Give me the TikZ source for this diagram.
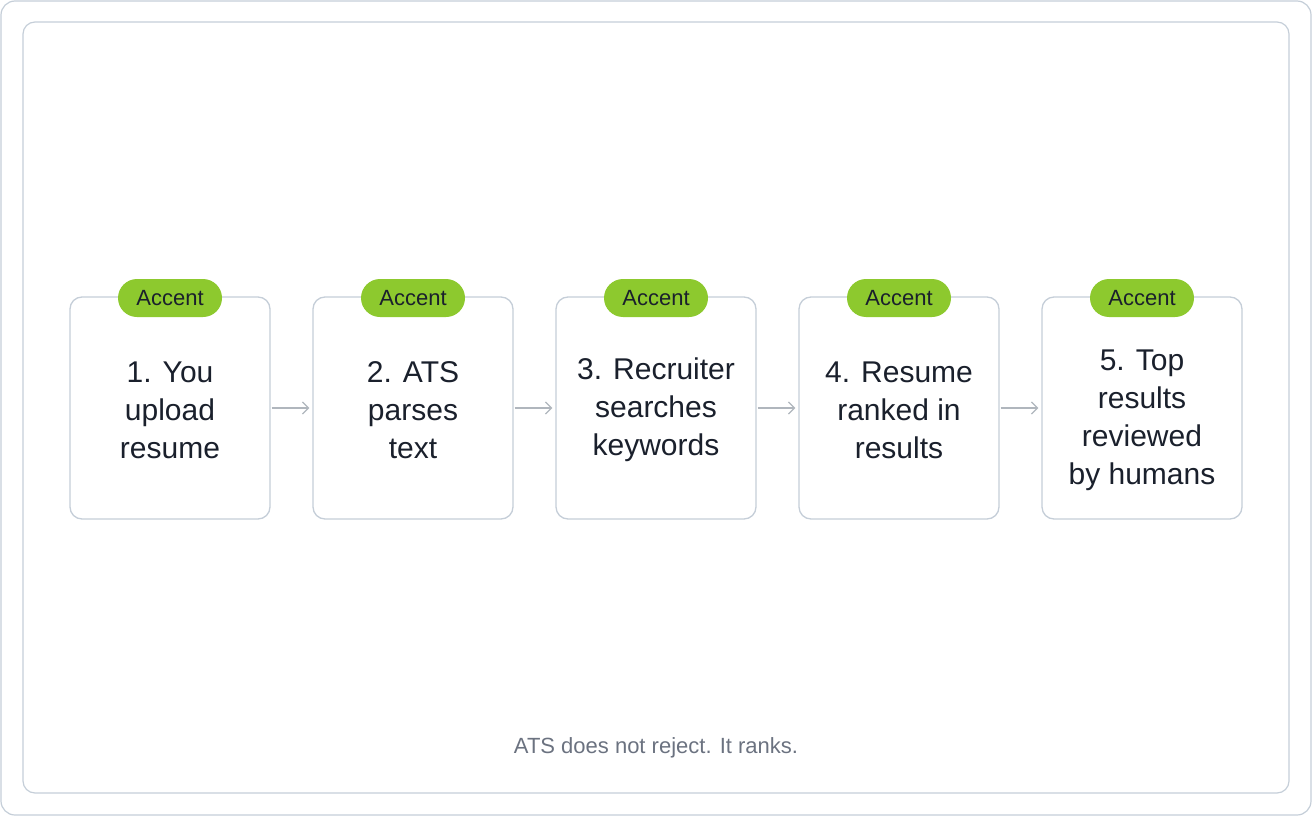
\documentclass[tikz,border=0pt]{standalone}
\usepackage{fontspec}
\setmainfont{Liberation Sans}
\usetikzlibrary{arrows.meta}
\definecolor{bord}{HTML}{C5CED8}
\definecolor{acc}{HTML}{8DC92E}
\definecolor{txt}{HTML}{1A202C}
\definecolor{cap}{HTML}{6B7280}
\begin{document}
\begin{tikzpicture}[x=1pt,y=-1pt,
  box/.style={draw=bord,line width=1.3pt,rounded corners=12pt,minimum width=200pt,minimum height=222pt,fill=white},
  lbl/.style={align=center,text=txt,font=\fontsize{30}{38}\selectfont},
  pill/.style={fill=acc,rounded corners=19pt,minimum width=104pt,minimum height=38pt,text=txt,font=\fontsize{22}{24}\selectfont,inner sep=0pt},
  arr/.style={draw=bord!70!gray,line width=1.3pt,-{Straight Barb[length=6pt,width=12pt]}}]
\useasboundingbox (0,0) rectangle (1312,816);
\draw[draw=bord,line width=1.2pt,rounded corners=14pt] (1,1) rectangle (1311,815);
\draw[draw=bord,line width=1.2pt,rounded corners=12pt] (23,22) rectangle (1289,793);
\foreach \i/\x/\y/\t in {1/170/410/{1. You\\upload\\resume},2/413/410/{2. ATS\\parses\\text},3/656/410/{3. Recruiter\\searches\\keywords},4/899/410/{4. Resume\\ranked in\\results},5/1142/420/{5. Top\\results\\reviewed\\by humans}}{
  \node[box] (b\i) at (\x,408) {};
  \node[lbl] (t\i) at (\x,\y) {\t};
  \node[pill] (p\i) at (\x,298) {Accent};
}
\foreach \a/\b in {1/2,2/3,3/4,4/5}{
  \draw[arr] ([xshift=1pt]b\a.east) -- ([xshift=-3pt]b\b.west);
}
\node[text=cap,font=\fontsize{22}{24}\selectfont] (c) at (656,748) {ATS does not reject. It ranks.};
\end{tikzpicture}
\end{document}
